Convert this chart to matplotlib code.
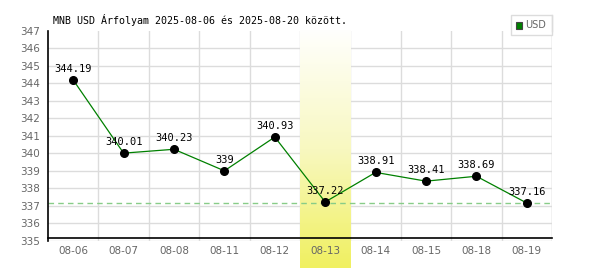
import numpy as np
import matplotlib
matplotlib.use("Agg")
import matplotlib.pyplot as plt
from matplotlib.patches import Rectangle
from matplotlib.colors import LinearSegmentedColormap

# Adatok
dates = ["08-06", "08-07", "08-08", "08-11", "08-12",
         "08-13", "08-14", "08-15", "08-18", "08-19"]
rates = [344.19, 340.01, 340.23, 339.00, 340.93,
         337.22, 338.91, 338.41, 338.69, 337.16]
labels = ["344.19", "340.01", "340.23", "339", "340.93",
          "337.22", "338.91", "338.41", "338.69", "337.16"]
highlight = 5
title = "MNB USD Árfolyam 2025-08-06 és 2025-08-20 között."

fig = plt.figure(figsize=(6, 2.7), dpi=100)
ax = fig.add_axes([0.08, 0.108, 0.84, 0.778])

x = np.arange(len(dates))
ax.set_xlim(-0.5, len(dates) - 0.5)
ax.set_ylim(335, 347)

# rács
for yv in range(335, 347):
    ax.axhline(yv, color="#dcdcdc", lw=1, zorder=0)
for xv in np.arange(0.5, len(dates), 1.0):
    ax.axvline(xv, color="#dcdcdc", lw=1, zorder=0)

# kiemelt sáv (színátmenet)
cmap = LinearSegmentedColormap.from_list("hl", ["#fffffd", "#f8f8c0", "#f0f060"])
grad = np.linspace(0, 1, 256).reshape(-1, 1)
ax.imshow(grad, cmap=cmap, aspect="auto", origin="upper",
          extent=(highlight - 0.5, highlight + 0.5, 333.45, 347),
          clip_on=False, zorder=1)

# utolsó érték szaggatott vonal
ax.axhline(rates[-1], color="#88cc88", lw=1, ls=(0, (4, 3)), zorder=2)

ax.plot(x, rates, color="#008000", lw=0.9, zorder=3)
ax.plot(x, rates, "o", color="black", ms=5.5, zorder=4)
for xi, yi, lab in zip(x, rates, labels):
    ax.annotate(lab, (xi, yi), xytext=(0, 4.5), textcoords="offset points",
                ha="center", va="bottom", fontsize=7.5,
                family="DejaVu Sans Mono", color="black", zorder=5)

for s in ["top", "right"]:
    ax.spines[s].set_visible(False)
ax.spines["left"].set_linewidth(1.2)
ax.spines["bottom"].set_linewidth(1.2)
ax.spines["bottom"].set_position(("data", 335.17))

ax.set_xticks(x)
ax.set_xticklabels(dates)
ax.set_yticks(range(335, 348))
ax.tick_params(length=0, labelsize=7.5, colors="#666666", pad=6)

# jobb szél
ax.axvline(len(dates) - 0.5, color="#dcdcdc", lw=1, zorder=0)
fig.add_artist(plt.Line2D([0.92, 0.92], [0.886, 0.944], color="#dcdcdc", lw=1))

fig.text(0.088, 0.925, title, fontsize=7.2, family="DejaVu Sans Mono",
         ha="left", va="center", color="black")

# jelmagyarázat
fig.add_artist(Rectangle((511 / 600, 1 - 35 / 270), 41 / 600, 20 / 270,
                         transform=fig.transFigure, facecolor="white",
                         edgecolor="#dcdcdc", lw=1))
fig.add_artist(Rectangle((516 / 600, 1 - 28.5 / 270), 6 / 600, 6 / 270,
                         transform=fig.transFigure, facecolor="#008000",
                         edgecolor="#444444", lw=0.8))
fig.text(525 / 600, 1 - 25 / 270, "USD", fontsize=7, color="#666666",
         ha="left", va="center")

fig.savefig("out.png", dpi=100)
